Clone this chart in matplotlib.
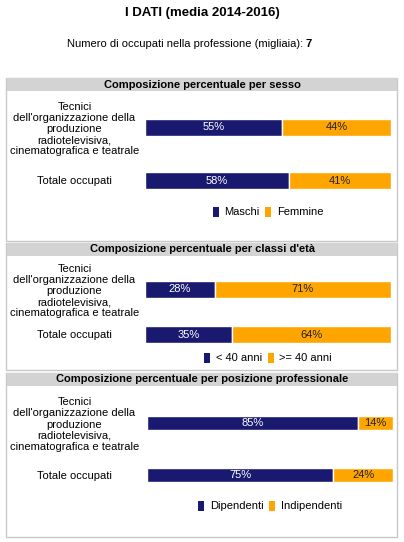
import matplotlib
matplotlib.use('Agg')
import matplotlib.pyplot as plt
from matplotlib.patches import Rectangle, Patch

plt.rcParams['font.family'] = ['Liberation Sans', 'DejaVu Sans']

W, H = 404, 542
NAVY = '#191970'
ORANGE = '#ffa500'

occupati = '7'
categorie = ["Tecnici\ndell'organizzazione della\nproduzione\nradiotelevisiva,\ncinematografica e teatrale",
             'Totale occupati']

titoli = ['Composizione percentuale per sesso',
          "Composizione percentuale per classi d'età",
          'Composizione percentuale per posizione professionale']
legende = [('Maschi', 'Femmine'),
           ('< 40 anni', '>= 40 anni'),
           ('Dipendenti', 'Indipendenti')]

sesso_m = [55, 58]
sesso_f = [44, 41]
eta_giovani = [28, 35]
eta_anziani = [71, 64]
pos_dip = [85, 75]
pos_indip = [14, 24]

serie = [(sesso_m, sesso_f), (eta_giovani, eta_anziani), (pos_dip, pos_indip)]

# layout in pixels: box top, box bottom, first row centre, row spacing, bar height, axis span, legend y
layout = [
    dict(top=78, bottom=241, c0=127.5, step=53, bh=17, left=145, right=391, leg=212),
    dict(top=243, bottom=370, c0=289.5, step=45, bh=17, left=145, right=391, leg=358),
    dict(top=373, bottom=537, c0=423, step=52, bh=14, left=147, right=393, leg=506),
]


def fx(x):
    return x / W


def fy(y):
    return 1 - y / H


fig = plt.figure(figsize=(W / 100, H / 100), dpi=100)
fig.patch.set_facecolor('white')

fig.text(fx(202), fy(13), 'I DATI (media 2014-2016)', ha='center', va='center',
         fontsize=9.5, fontweight='bold')
fig.text(fx(303), fy(44), 'Numero di occupati nella professione (migliaia):', ha='right',
         va='center', fontsize=8)
fig.text(fx(306), fy(44), occupati, ha='left', va='center', fontsize=8, fontweight='bold')

for k, lay in enumerate(layout):
    # panel frame and header
    fig.patches.append(Rectangle((fx(6), fy(lay['bottom'])), fx(391), (lay['bottom'] - lay['top']) / H,
                                 transform=fig.transFigure, facecolor='white',
                                 edgecolor='#c8c8c8', linewidth=1, zorder=-2))
    fig.patches.append(Rectangle((fx(6.5), fy(lay['top'] + 13)), fx(390), 13 / H,
                                 transform=fig.transFigure, facecolor='#d3d3d3',
                                 edgecolor='none', zorder=-1))
    fig.text(fx(202), fy(lay['top'] + 6.5), titoli[k], ha='center', va='center',
             fontsize=8, fontweight='bold')

    a, b = serie[k]
    step = lay['step']
    y_top = lay['c0'] - step / 2
    y_bot = lay['c0'] + step * 1.5
    ax = fig.add_axes([fx(lay['left']), fy(y_bot), fx(lay['right'] - lay['left']), (y_bot - y_top) / H])
    ax.set_facecolor('none')
    pos = list(range(len(categorie)))
    bh = lay['bh'] / step
    tot = a[0] + b[0]
    ax.barh(pos, a, height=bh, color=NAVY, edgecolor='white', linewidth=1)
    ax.barh(pos, b, left=a, height=bh, color=ORANGE, edgecolor='white', linewidth=1)
    for i in pos:
        ax.text(a[i] / 2, i, '%d%%' % a[i], ha='center', va='center', color='white', fontsize=8)
        ax.text(a[i] + b[i] / 2, i, '%d%%' % b[i], ha='center', va='center', color='#222222',
                fontsize=8)
    ax.set_xlim(0, tot)
    ax.set_ylim(1.5, -0.5)
    ax.set_xticks([])
    ax.set_yticks(pos)
    ax.set_yticklabels(categorie, fontsize=8, ha='center', linespacing=1.15)
    ax.tick_params(axis='y', length=0, pad=(lay['left'] - 74.5) * 0.72)
    for s in ax.spines.values():
        s.set_visible(False)

    handles = [Patch(facecolor=NAVY, edgecolor='none'), Patch(facecolor=ORANGE, edgecolor='none')]
    fig.legend(handles, legende[k], loc='center', ncol=2, frameon=False, fontsize=8,
               bbox_to_anchor=(fx((lay['left'] + lay['right']) / 2), fy(lay['leg'])),
               bbox_transform=fig.transFigure, handlelength=0.55, handleheight=1.0,
               handletextpad=0.5, columnspacing=0.5, borderpad=0)

fig.savefig('out.png', dpi=100)
